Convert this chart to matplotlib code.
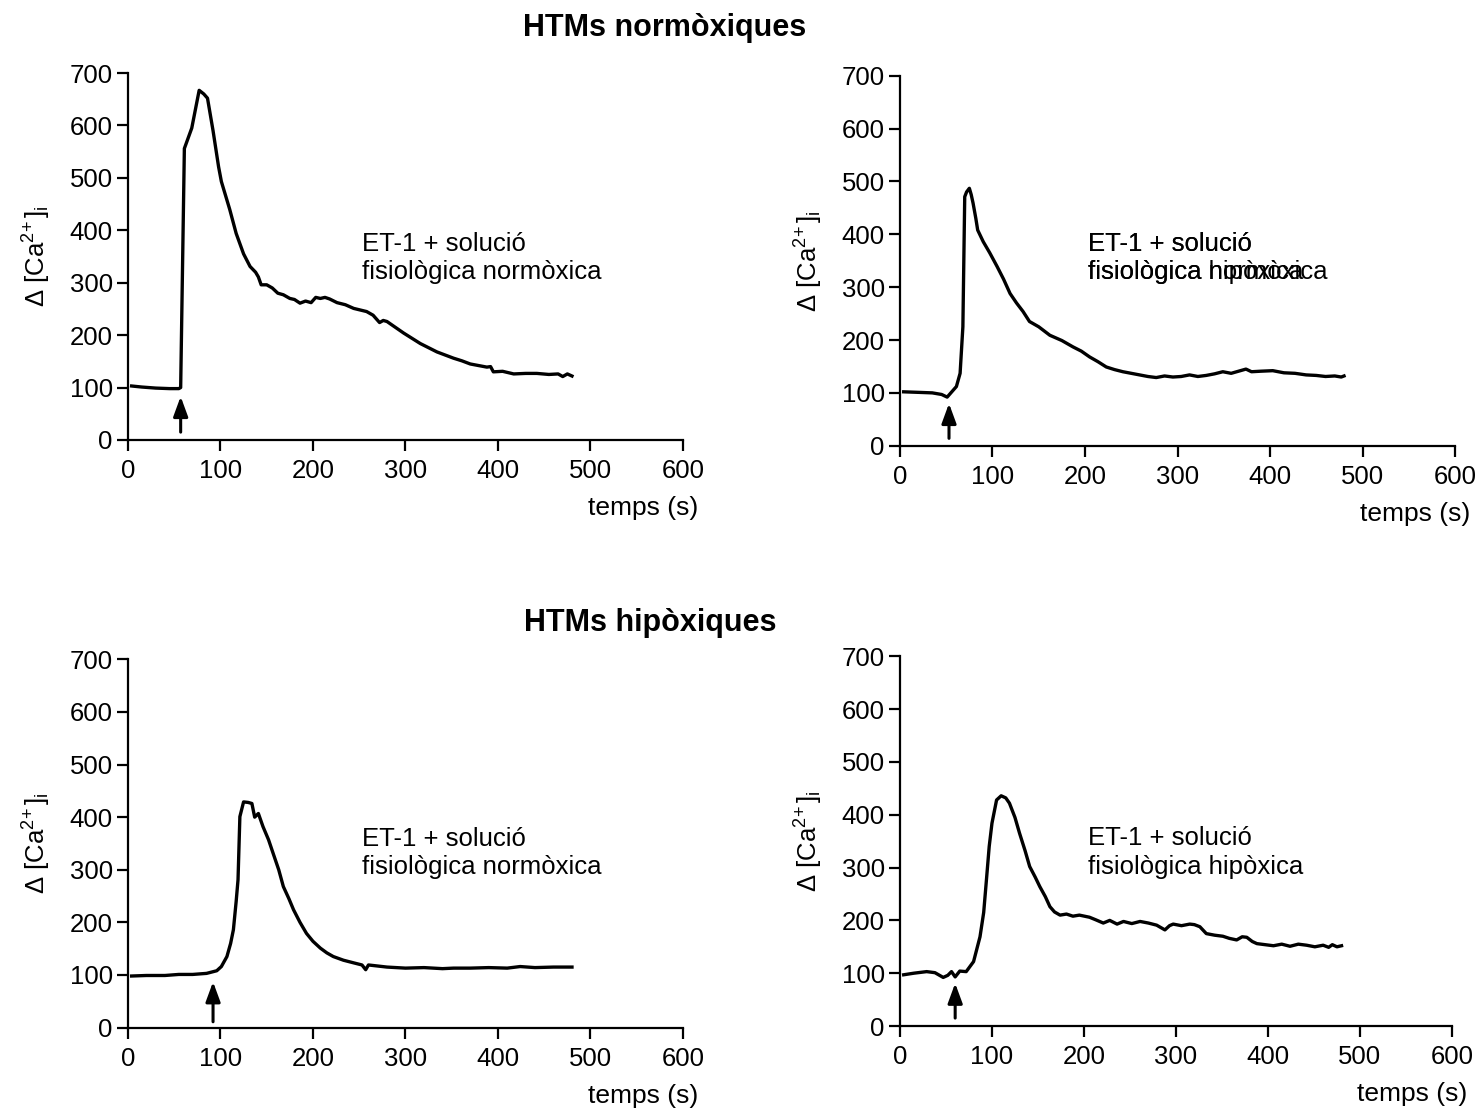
import matplotlib
matplotlib.use("Agg")
import matplotlib.pyplot as plt

plt.rcParams['font.family'] = ['Liberation Sans', 'DejaVu Sans']
plt.rcParams['mathtext.fontset'] = 'custom'
plt.rcParams['mathtext.rm'] = 'Liberation Sans'
plt.rcParams['mathtext.it'] = 'Liberation Sans'

# ET-1 on normoxic HTMs, normoxic solution
t_nn = [4, 15, 30, 45, 55, 57, 61, 69, 77, 82, 86, 92, 98, 101, 110, 117, 125,
        132, 138, 141, 144, 150, 156, 162, 168, 175, 180, 186, 192, 198, 203,
        208, 213, 218, 226, 235, 244, 251, 258, 265, 272, 276, 280, 289, 298,
        307, 316, 325, 334, 343, 352, 361, 370, 379, 388, 392, 395, 405, 417,
        430, 442, 455, 465, 470, 475, 480]
ca_nn = [103, 101, 99, 98, 98, 100, 556, 595, 667, 660, 652, 590, 521, 493,
         440, 394, 355, 331, 320, 311, 296, 296, 290, 280, 277, 270, 268, 261,
         265, 262, 272, 270, 272, 269, 262, 258, 251, 248, 245, 238, 224, 228,
         226, 215, 204, 194, 184, 176, 168, 162, 156, 151, 145, 142, 139, 140,
         130, 131, 126, 127, 127, 125, 126, 121, 126, 122]

# ET-1 on normoxic HTMs, hypoxic solution
t_nh = [4, 20, 35, 45, 51, 55, 61, 65, 68, 70, 72, 75, 77, 79, 82, 84, 90, 97,
        105, 112, 119, 126, 133, 140, 150, 162, 175, 187, 196, 205, 214, 223,
        232, 241, 250, 259, 268, 277, 286, 295, 304, 313, 322, 331, 340, 349,
        358, 366, 374, 380, 390, 403, 415, 427, 439, 450, 460, 470, 477, 480]
ca_nh = [102, 101, 100, 97, 92, 100, 112, 137, 225, 471, 480, 487, 475, 459,
         430, 408, 386, 365, 339, 315, 288, 270, 254, 235, 225, 209, 199, 187,
         179, 168, 159, 149, 144, 140, 137, 134, 131, 129, 132, 130, 131, 134,
         131, 133, 136, 140, 137, 141, 145, 140, 141, 142, 138, 137, 134, 133,
         131, 132, 130, 132]

# ET-1 on hypoxic HTMs, normoxic solution
t_hn = [4, 20, 40, 55, 70, 85, 96, 101, 107, 111, 114, 117, 119, 121, 125,
        130, 134, 137, 141, 146, 152, 157, 163, 168, 174, 179, 186, 193, 200,
        208, 215, 222, 233, 244, 253, 257, 260, 270, 280, 300, 320, 340, 352,
        370, 390, 410, 424, 440, 460, 480]
ca_hn = [98, 99, 99, 101, 101, 103, 108, 116, 135, 160, 186, 240, 281, 401,
         429, 428, 426, 400, 407, 382, 357, 331, 300, 268, 245, 224, 200, 179,
         164, 151, 142, 135, 128, 123, 119, 110, 119, 117, 115, 113, 114, 112,
         113, 113, 114, 113, 116, 114, 115, 115]

# ET-1 on hypoxic HTMs, hypoxic solution
t_hh = [4, 15, 29, 38, 47, 52, 56, 60, 65, 72, 80, 87, 91, 94, 97, 100, 105,
        110, 115, 119, 125, 130, 136, 141, 147, 152, 158, 163, 168, 174, 181,
        188, 195, 206, 213, 221, 228, 236, 243, 252, 261, 270, 279, 284, 288,
        293, 297, 306, 315, 320, 326, 333, 342, 351, 358, 366, 372, 377, 383,
        388, 397, 406, 415, 424, 433, 442, 451, 460, 466, 470, 475, 480]
ca_hh = [97, 100, 103, 101, 92, 96, 103, 93, 104, 103, 122, 169, 215, 277,
         340, 384, 428, 436, 432, 422, 395, 365, 332, 302, 282, 264, 245, 226,
         216, 210, 212, 208, 210, 206, 201, 195, 200, 193, 198, 194, 198, 195,
         191, 186, 182, 190, 193, 190, 193, 192, 188, 175, 172, 170, 166, 163,
         169, 168, 160, 156, 154, 152, 155, 151, 155, 153, 150, 153, 149, 154,
         150, 152]

# time of ET-1 addition (arrow) and arrow extent
stim = [57, 53, 92, 60]
arrow_base = [15, 14, 11, 15]
arrow_tip = [83, 80, 87, 81]

labels = ["ET-1 + solució\nfisiològica normòxica",
          "ET-1 + solució\nfisiològica hipòxica",
          "ET-1 + solució\nfisiològica normòxica",
          "ET-1 + solució\nfisiològica hipòxica"]
label_pos = [(253, 347), (203, 355), (253, 332), (204, 328)]

series = [(t_nn, ca_nn), (t_nh, ca_nh), (t_hn, ca_hn), (t_hh, ca_hh)]
rects = [[0.0865, 0.6029, 0.3753, 0.3312],
         [0.6085, 0.5977, 0.3753, 0.3340],
         [0.0865, 0.0726, 0.3753, 0.3323],
         [0.6085, 0.0740, 0.3732, 0.3336]]

fs = 18.5
fig = plt.figure(figsize=(14.79, 11.08), dpi=100)

for i, (t, ca) in enumerate(series):
    ax = fig.add_axes(rects[i])
    ax.plot(t, ca, color='k', lw=2.4, solid_joinstyle='round')
    ax.set_xlim(0, 600)
    ax.set_ylim(0, 700)
    ax.set_xticks(range(0, 601, 100))
    ax.set_yticks(range(0, 701, 100))
    for s in ('top', 'right'):
        ax.spines[s].set_visible(False)
    for s in ('left', 'bottom'):
        ax.spines[s].set_linewidth(1.6)
    ax.tick_params(direction='out', length=8, width=1.6, labelsize=fs)
    ax.tick_params(axis='x', pad=6)
    ax.tick_params(axis='y', pad=3)
    ax.set_xlabel('temps (s)', fontsize=19, ha='right', va='center')
    ax.xaxis.set_label_coords(1.027, -0.185)
    ax.set_ylabel(r'Δ [Ca$^{2\!+}$]$_{\rm i}$', fontsize=fs)
    ax.yaxis.set_label_coords(-0.135, 0.5)

    ax.annotate('', xy=(stim[i], arrow_tip[i]), xytext=(stim[i], arrow_base[i]),
                arrowprops=dict(arrowstyle='-|>,head_length=0.6,head_width=0.22',
                                color='k', lw=2.2, mutation_scale=20,
                                shrinkA=0, shrinkB=0))

    lx, ly = label_pos[i]
    ax.text(lx, ly, labels[i], fontsize=fs, va='center', ha='left',
            linespacing=1.25)
    if i == 1:
        # second caption printed over the first one
        ax.text(lx, ly, labels[0], fontsize=fs, va='center', ha='left',
                linespacing=1.25)

fig.text(665 / 1479, 1 - 28 / 1108, 'HTMs normòxiques', fontsize=22,
         fontweight='bold', ha='center', va='center')
fig.text(650 / 1479, 1 - 623 / 1108, 'HTMs hipòxiques', fontsize=22,
         fontweight='bold', ha='center', va='center')

fig.savefig('out.png', dpi=100)
